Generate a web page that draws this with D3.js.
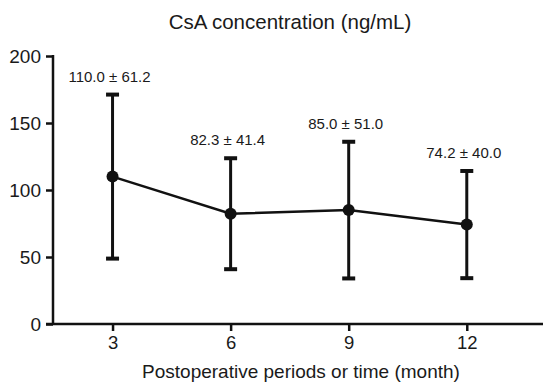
<!DOCTYPE html>
<html>
<head>
<meta charset="utf-8">
<script src="https://cdn.jsdelivr.net/npm/d3@7"></script>
<style>
  body { margin: 0; background: #fff; }
  svg { display: block; font-family: "Liberation Sans", Arial, sans-serif; }
</style>
</head>
<body>
<div class="chart"></div>
<script>
// data
const months = [3, 6, 9, 12];
const means = [110.0, 82.3, 85.0, 74.2];
const sds = [61.2, 41.4, 51.0, 40.0];
const yTicks = [0, 50, 100, 150, 200];

const width = 543, height = 386;
const margin = { left: 53, top: 56, bottom: 62 };

const svg = d3.select(".chart").append("svg")
    .attr("width", width)
    .attr("height", height);

const x = d3.scaleLinear().domain([1.5, 14]).range([margin.left + 0.5, 545.5]);
const y = d3.scaleLinear().domain([0, 200]).range([height - margin.bottom, margin.top]);

// y axis
const yAxis = svg.append("g")
    .attr("transform", `translate(${margin.left},0)`)
    .call(d3.axisLeft(y).tickValues(yTicks).tickSize(7).tickPadding(5).tickSizeOuter(0));
yAxis.select(".domain").attr("stroke", "#111").attr("stroke-width", 2.5)
    .attr("d", `M0,${y(200) - 1}V${y(0)}`);
yAxis.selectAll(".tick line").attr("stroke", "#111").attr("stroke-width", 2.5);
yAxis.selectAll(".tick text").attr("font-size", 19).attr("fill", "#1a1a1a");

// x axis
const xAxis = svg.append("g")
    .attr("transform", `translate(0,${y(0)})`)
    .call(d3.axisBottom(x).tickValues(months).tickSize(7).tickPadding(5).tickSizeOuter(0));
xAxis.select(".domain").attr("stroke", "#111").attr("stroke-width", 2.5)
    .attr("d", `M${margin.left - 7},0H${width}`);
xAxis.selectAll(".tick line").attr("stroke", "#111").attr("stroke-width", 2.5);
xAxis.selectAll(".tick text").attr("font-size", 18.5).attr("fill", "#1a1a1a");

const pts = months.map((m, i) => ({ m, mean: means[i], sd: sds[i] }));

// mean line
svg.append("path")
    .datum(pts)
    .attr("fill", "none")
    .attr("stroke", "#111")
    .attr("stroke-width", 2.5)
    .attr("d", d3.line().x(d => x(d.m)).y(d => y(d.mean)));

// error bars
const eb = svg.selectAll(".eb").data(pts).enter().append("g")
    .attr("stroke", "#111").attr("stroke-width", 3);
eb.append("line")
    .attr("x1", d => x(d.m)).attr("x2", d => x(d.m))
    .attr("y1", d => y(d.mean + d.sd)).attr("y2", d => y(d.mean - d.sd));
eb.append("line")
    .attr("x1", d => x(d.m) - 6.5).attr("x2", d => x(d.m) + 6.5)
    .attr("y1", d => y(d.mean + d.sd)).attr("y2", d => y(d.mean + d.sd))
    .attr("stroke-width", 4);
eb.append("line")
    .attr("x1", d => x(d.m) - 6.5).attr("x2", d => x(d.m) + 6.5)
    .attr("y1", d => y(d.mean - d.sd)).attr("y2", d => y(d.mean - d.sd))
    .attr("stroke-width", 4);

// markers
svg.selectAll(".dot").data(pts).enter().append("circle")
    .attr("cx", d => x(d.m)).attr("cy", d => y(d.mean)).attr("r", 6)
    .attr("fill", "#111");

// value labels
svg.selectAll(".val").data(pts).enter().append("text")
    .attr("x", d => x(d.m) - 3)
    .attr("y", d => y(d.mean + d.sd) - 13)
    .attr("text-anchor", "middle")
    .attr("font-size", 15)
    .attr("fill", "#1a1a1a")
    .text(d => `${d.mean.toFixed(1)} \u00b1 ${d.sd.toFixed(1)}`);

// title
svg.append("text")
    .attr("x", 290).attr("y", 29)
    .attr("text-anchor", "middle")
    .attr("font-size", 20.5)
    .attr("fill", "#1a1a1a")
    .text("CsA concentration (ng/mL)");

// x label
svg.append("text")
    .attr("x", 301).attr("y", 378)
    .attr("text-anchor", "middle")
    .attr("font-size", 19)
    .attr("fill", "#1a1a1a")
    .text("Postoperative periods or time (month)");
</script>
</body>
</html>
